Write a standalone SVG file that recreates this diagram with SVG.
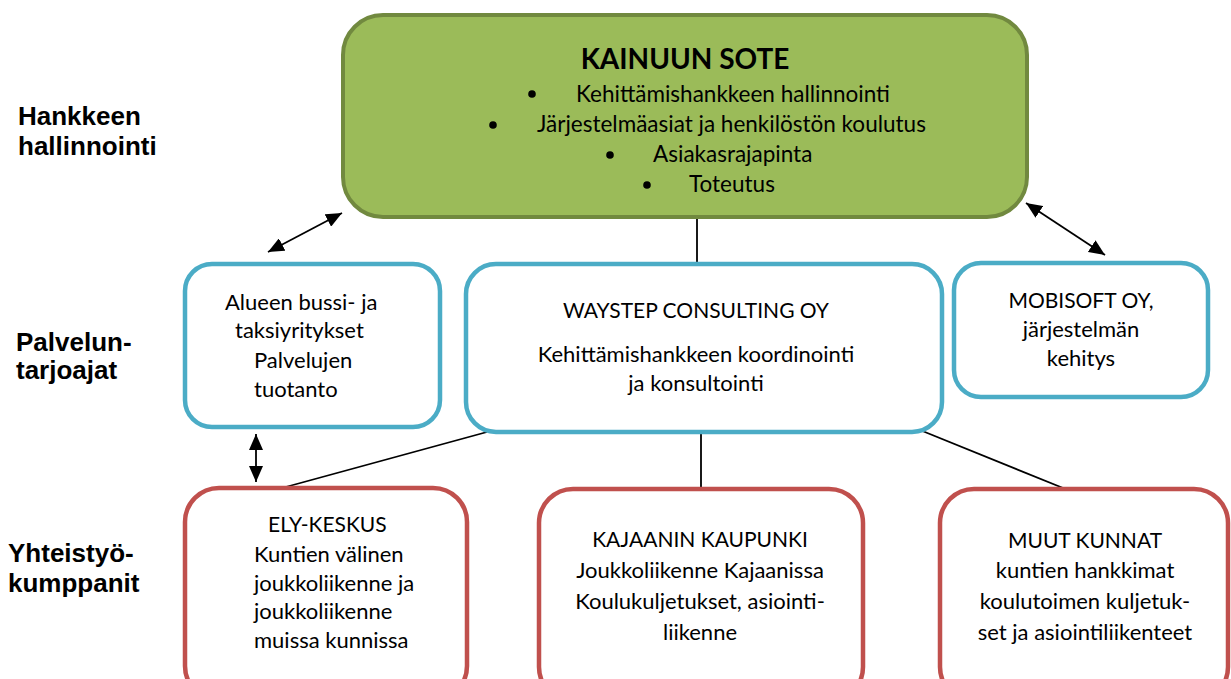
<svg xmlns="http://www.w3.org/2000/svg" width="1231" height="679" viewBox="0 0 1231 679">
<style>
.t{font-family:Lato,"Open Sans",sans-serif;font-size:22px;fill:#000}
.cap{font-size:21px}
.tc{text-anchor:middle}
.lab{font-family:"Liberation Sans",Arial,sans-serif;font-size:26px;font-weight:bold;fill:#000}
.g{fill:#9bbb59;stroke:#71893f;stroke-width:4}
.b{fill:#fff;stroke:#4bacc6;stroke-width:4.5}
.r{fill:#fff;stroke:#c0504d;stroke-width:4.5}
.c{stroke:#000;stroke-width:1.8;fill:none}
</style>
<defs>
<marker id="ah" viewBox="0 0 16 14" refX="16" refY="7" markerWidth="16" markerHeight="14" markerUnits="userSpaceOnUse" orient="auto-start-reverse">
<path d="M0,0L16,7L0,14z" fill="#000"/>
</marker>
</defs>
<rect width="1231" height="679" fill="#fff"/>
<g id="labels">
<text class="lab" x="18" y="125">Hankkeen</text>
<text class="lab" x="18" y="155">hallinnointi</text>
<text class="lab" x="16" y="351">Palvelun-</text>
<text class="lab" x="16" y="379">tarjoajat</text>
<text class="lab" x="8" y="562">Yhteistyö-</text>
<text class="lab" x="8" y="592">kumppanit</text>
</g>
<g id="connectors">
<line class="c" x1="268" y1="252" x2="342" y2="213" marker-start="url(#ah)" marker-end="url(#ah)"/>
<line class="c" x1="1026" y1="203" x2="1105" y2="255" marker-start="url(#ah)" marker-end="url(#ah)"/>
<line class="c" x1="697" y1="219" x2="697" y2="262"/>
<line class="c" x1="256" y1="434" x2="256" y2="482" marker-start="url(#ah)" marker-end="url(#ah)"/>
<line class="c" x1="487" y1="432" x2="282" y2="488"/>
<line class="c" x1="701" y1="433" x2="701" y2="488"/>
<line class="c" x1="915" y1="428" x2="1068" y2="490"/>
</g>
<g id="kainuun-sote">
<rect class="g" x="343" y="15" width="684" height="202" rx="40"/>
<text class="t tc" x="685" y="69" style="font-size:28px;font-weight:bold">KAINUUN SOTE</text>
<circle cx="532" cy="94" r="3.8"/><text class="t" x="576" y="102" style="font-size:22.5px">Kehittämishankkeen hallinnointi</text>
<circle cx="493" cy="125" r="3.8"/><text class="t" x="537" y="132" style="font-size:22.5px">Järjestelmäasiat ja henkilöstön koulutus</text>
<circle cx="610" cy="155" r="3.8"/><text class="t" x="653" y="162" style="font-size:22.5px">Asiakasrajapinta</text>
<circle cx="647" cy="185" r="3.8"/><text class="t" x="689" y="192" style="font-size:22.5px">Toteutus</text>
</g>
<g id="alueen">
<rect class="b" x="185" y="264" width="255" height="163" rx="27"/>
<text class="t" x="225" y="310">Alueen bussi- ja</text>
<text class="t" x="235" y="338">taksiyritykset</text>
<text class="t" x="254" y="368">Palvelujen</text>
<text class="t" x="254" y="397">tuotanto</text>
</g>
<g id="waystep">
<rect class="b" x="466" y="264" width="476" height="168" rx="30"/>
<text class="t tc cap" x="696" y="318">WAYSTEP CONSULTING OY</text>
<text class="t tc" x="696" y="362">Kehittämishankkeen koordinointi</text>
<text class="t tc" x="696" y="391">ja konsultointi</text>
</g>
<g id="mobisoft">
<rect class="b" x="954" y="263" width="254" height="134" rx="27"/>
<text class="t tc cap" x="1081" y="308">MOBISOFT OY,</text>
<text class="t tc" x="1081" y="337">järjestelmän</text>
<text class="t tc" x="1081" y="366">kehitys</text>
</g>
<g id="ely">
<rect class="r" x="185" y="488" width="282" height="212" rx="34"/>
<text class="t cap" x="268" y="532">ELY-KESKUS</text>
<text class="t" x="254" y="562">Kuntien välinen</text>
<text class="t" x="254" y="591">joukkoliikenne ja</text>
<text class="t" x="254" y="619">joukkoliikenne</text>
<text class="t" x="254" y="648">muissa kunnissa</text>
</g>
<g id="kajaani">
<rect class="r" x="539" y="489" width="324" height="212" rx="34"/>
<text class="t tc cap" x="700" y="547">KAJAANIN KAUPUNKI</text>
<text class="t tc" x="700" y="578">Joukkoliikenne Kajaanissa</text>
<text class="t tc" x="700" y="609">Koulukuljetukset, asiointi-</text>
<text class="t tc" x="700" y="640">liikenne</text>
</g>
<g id="muut">
<rect class="r" x="940" y="489" width="288" height="212" rx="34"/>
<text class="t tc cap" x="1085" y="548">MUUT KUNNAT</text>
<text class="t tc" x="1085" y="578">kuntien hankkimat</text>
<text class="t tc" x="1085" y="609">koulutoimen kuljetuk-</text>
<text class="t tc" x="1085" y="640">set ja asiointiliikenteet</text>
</g>
</svg>
